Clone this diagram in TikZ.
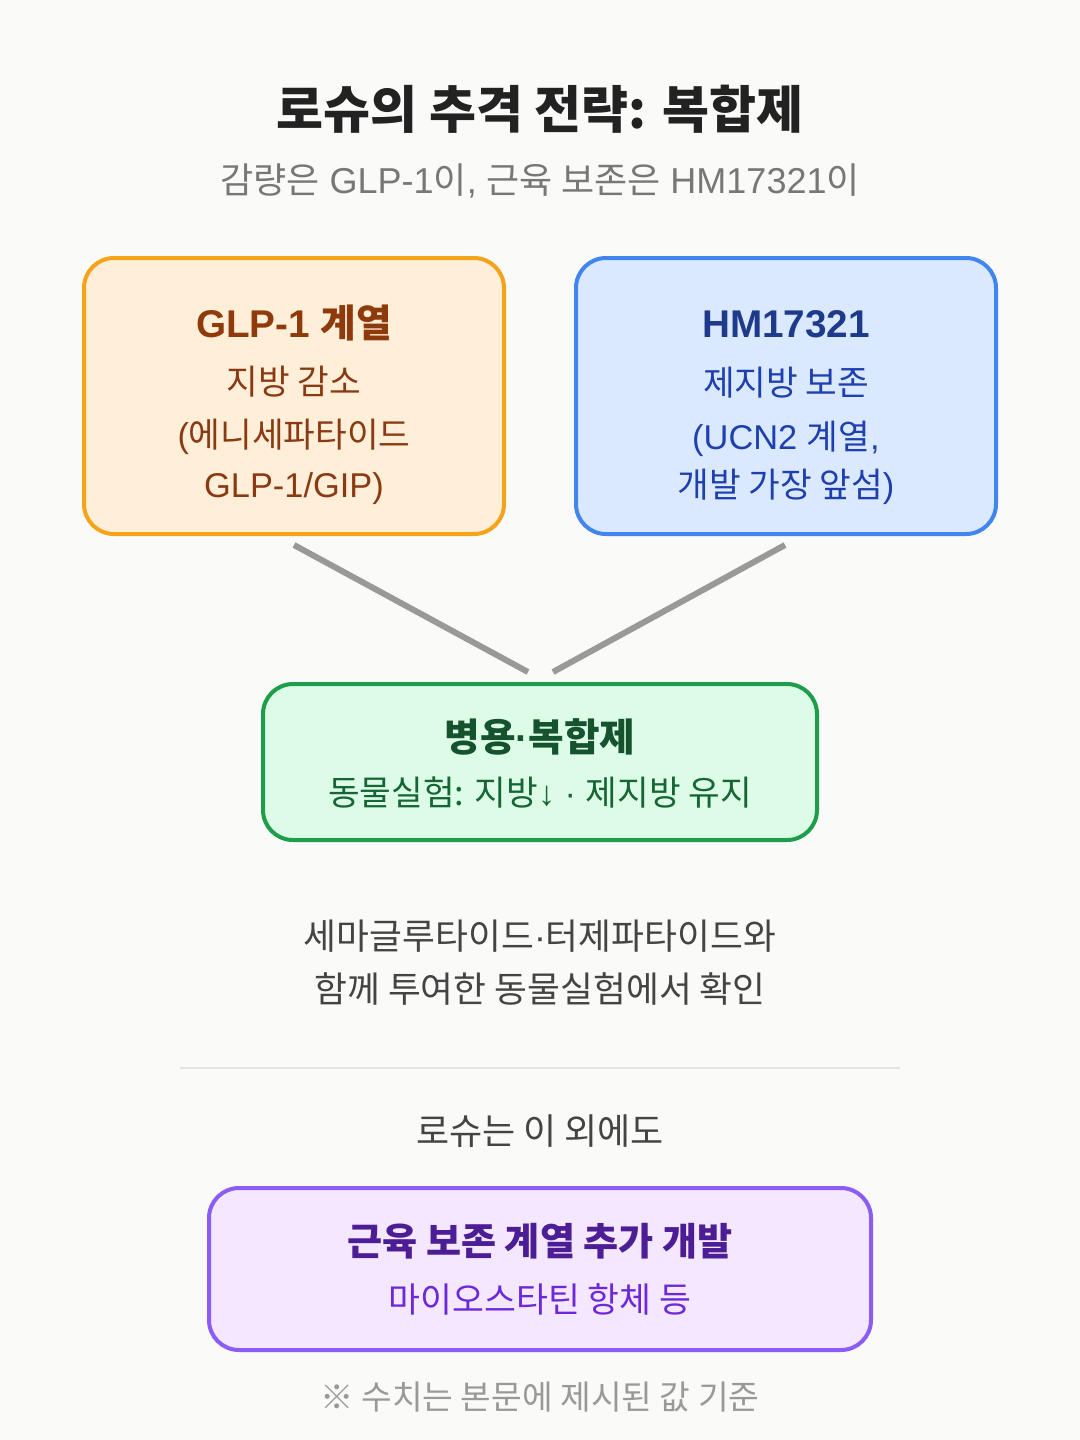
\documentclass[tikz,border=0pt]{standalone}
\usepackage{fontspec}
\setmainfont{Liberation Sans}
\newfontfamily\kr{Noto Sans CJK KR}
\usetikzlibrary{calc}
\definecolor{bg}{HTML}{FAFAF8}
\definecolor{ttlC}{HTML}{222222}
\definecolor{subC}{HTML}{777777}
\definecolor{midC}{HTML}{444444}
\definecolor{footC}{HTML}{999999}
\definecolor{lineC}{HTML}{999999}
\definecolor{sepC}{HTML}{E5E5E5}
\definecolor{oB}{HTML}{F5A31A}
\definecolor{oF}{HTML}{FFEFD9}
\definecolor{oT}{HTML}{8F3A0C}
\definecolor{oX}{HTML}{8A3A12}
\definecolor{bB}{HTML}{4186EE}
\definecolor{bF}{HTML}{DBE9FE}
\definecolor{bT}{HTML}{1E3A8A}
\definecolor{bX}{HTML}{1E40AF}
\definecolor{gB}{HTML}{1E9E4A}
\definecolor{gF}{HTML}{DCFCE7}
\definecolor{gT}{HTML}{14532D}
\definecolor{gX}{HTML}{166534}
\definecolor{pB}{HTML}{8B5CF6}
\definecolor{pF}{HTML}{F3E8FF}
\definecolor{pT}{HTML}{4C1D95}
\definecolor{pX}{HTML}{6D28D9}
\tikzset{
  box/.style={line width=3pt, rounded corners=22.5pt, inner sep=0pt},
  txt/.style={anchor=base, inner sep=0pt, align=center},
  hd/.style={txt, font=\fontsize{29pt}{33pt}\selectfont\bfseries},
  bd/.style={txt, font=\fontsize{25.8pt}{30pt}\selectfont},
  mt/.style={txt, font=\fontsize{26.8pt}{31pt}\selectfont, text=midC},
  conn/.style={draw=lineC, line width=4.5pt},
}
\begin{document}
\begin{tikzpicture}[x=0.75pt,y=-0.75pt]
\path[fill=bg] (0,0) rectangle (1080,1440);
% title
\node[txt, font=\fontsize{38.3pt}{42pt}\selectfont\bfseries, text=ttlC] (title) at (540,128) {\kr 로슈의 추격 전략: 복합제};
\node[txt, font=\fontsize{27pt}{31pt}\selectfont, text=subC] (subt) at (540,193) {{\kr 감량은} GLP-1{\kr 이}, {\kr 근육 보존은} HM17321{\kr 이}};
% boxes
\node[box, draw=oB, fill=oF, minimum width=315pt, minimum height=207pt] (glp) at (294,396) {};
\node[box, draw=bB, fill=bF, minimum width=315pt, minimum height=207pt] (hm) at (786,396) {};
\node[box, draw=gB, fill=gF, minimum width=415.5pt, minimum height=117pt] (combo) at (540,762) {};
\node[box, draw=pB, fill=pF, minimum width=496.5pt, minimum height=121.5pt] (more) at (540,1269) {};
% orange text
\node[hd, text=oT] (glpT) at (294,337) {GLP-1 {\kr 계열}};
\node[bd, text=oX] (glp1) at (294,394) {\kr 지방 감소};
\node[bd, text=oX] (glp2) at (294,447) {({\kr 에니세파타이드}};
\node[bd, text=oX] (glp3) at (294,497) {GLP-1/GIP)};
% blue text
\node[hd, text=bT] (hmT) at (786,337) {HM17321};
\node[bd, text=bX] (hm1) at (786,395) {\kr 제지방 보존};
\node[bd, text=bX] (hm2) at (786,449) {(UCN2 {\kr 계열},};
\node[bd, text=bX] (hm3) at (786,497) {{\kr 개발 가장 앞섬})};
% connectors
\coordinate (glpOut) at (294,545);
\coordinate (hmOut) at (785,545);
\coordinate (comboInL) at (528,672);
\coordinate (comboInR) at (553,672);
\draw[conn] (glpOut) -- (comboInL);
\draw[conn] (hmOut) -- (comboInR);
% green text
\node[hd, text=gT] (comboT) at (540,751) {{\kr 병용}·{\kr 복합제}};
\node[bd, text=gX] (combo1) at (540,805) {{\kr 동물실험: 지방}↓ · {\kr 제지방 유지}};
% middle text
\node[mt] (mid1) at (540,949) {{\kr 세마글루타이드}·{\kr 터제파타이드와}};
\node[mt] (mid2) at (540,1002) {\kr 함께 투여한 동물실험에서 확인};
% separator
\coordinate (sepL) at (180,1068);
\coordinate (sepR) at (900,1068);
\draw[draw=sepC, line width=1.5pt] (sepL) -- (sepR);
\node[txt, font=\fontsize{27pt}{31pt}\selectfont, text=midC] (also) at (540,1144) {\kr 로슈는 이 외에도};
% purple text
\node[hd, font=\fontsize{28.6pt}{33pt}\selectfont\bfseries, text=pT] (moreT) at (540,1255) {\kr 근육 보존 계열 추가 개발};
\node[bd, font=\fontsize{26pt}{30pt}\selectfont, text=pX] (more1) at (540,1312) {\kr 마이오스타틴 항체 등};
% footer
\node[txt, font=\fontsize{25pt}{29pt}\selectfont, text=footC] (foot) at (540,1409) {\kr ※ 수치는 본문에 제시된 값 기준};
\end{tikzpicture}
\end{document}
